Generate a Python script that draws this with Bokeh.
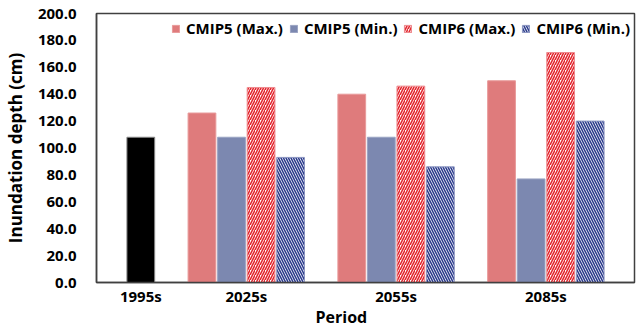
from bokeh.plotting import figure
from bokeh.models import Range1d, NumeralTickFormatter, FixedTicker, Legend, LegendItem, Title, ColumnDataSource
from bokeh.embed import file_html
from bokeh.resources import INLINE

# ---- data ----
baseline_period = "1995s"
baseline_value = [108.0]
future_periods = ["2025s", "2055s", "2085s"]
series_names = ["CMIP5 (Max.)", "CMIP5 (Min.)", "CMIP6 (Max.)", "CMIP6 (Min.)"]
cmip5_max = [126.0, 140.0, 150.0]
cmip5_min = [108.0, 108.0, 77.0]
cmip6_max = [145.0, 146.0, 171.0]
cmip6_min = [93.0, 86.0, 120.0]
y_ticks = [0, 20, 40, 60, 80, 100, 120, 140, 160, 180, 200]
y_title = "Inundation depth (cm)"
x_title = "Period"

series_values = [cmip5_max, cmip5_min, cmip6_max, cmip6_min]

FONT = "Open Sans"

# ---- cluster layout (slot units) ----
GROUP_GAP = 1.07
SIDE_PAD = 1.0
BW = 0.94

group_sizes = [1] + [len(series_names)] * len(future_periods)
group_starts = []
cursor = 0.0
for n in group_sizes:
    group_starts.append(cursor)
    cursor += n + GROUP_GAP
total = cursor - GROUP_GAP
group_centers = [s + n / 2.0 for s, n in zip(group_starts, group_sizes)]
period_labels = [baseline_period] + future_periods

p = figure(width=643, height=328, x_range=Range1d(-SIDE_PAD, total + SIDE_PAD), y_range=Range1d(0, 200),
           output_backend="svg", toolbar_location=None,
           min_border_left=92, min_border_right=9, min_border_top=13, min_border_bottom=46)

styles = [
    dict(fill_color="#DF7B7C", line_color="#E89A9A", hatch_pattern=None),
    dict(fill_color="#7C88B0", line_color="#9AA3C2", hatch_pattern=None),
    dict(fill_color="white", line_color="#EE8A8E", hatch_pattern="/", hatch_color="#E3262E"),
    dict(fill_color="white", line_color="#8A94C0", hatch_pattern="\\", hatch_color="#2C3C8C"),
]

base_src = ColumnDataSource(dict(x=[group_starts[0] + 0.5], top=baseline_value))
p.vbar(x="x", top="top", width=BW, source=base_src, fill_color="black", line_color="#888888", line_width=1)

items = []
for k, (name, vals, st) in enumerate(zip(series_names, series_values, styles)):
    xs = [group_starts[g + 1] + k + 0.5 for g in range(len(future_periods))]
    src = ColumnDataSource(dict(x=xs, top=vals))
    kw = dict(fill_color=st["fill_color"], line_color=st["line_color"], line_width=1)
    if st["hatch_pattern"]:
        kw.update(hatch_pattern=st["hatch_pattern"], hatch_color=st["hatch_color"],
                  hatch_scale=5, hatch_weight=1.6)
    r = p.vbar(x="x", top="top", width=BW, source=src, **kw)
    items.append(LegendItem(label=name, renderers=[r]))

legend = Legend(items=items, orientation="horizontal", location="top_right",
                glyph_width=9, glyph_height=9, label_standoff=6, spacing=6,
                margin=4, padding=5, border_line_color=None, background_fill_alpha=0,
                label_text_font=FONT, label_text_font_style="bold", label_text_font_size="15px",
                label_text_color="black", label_height=22)
p.add_layout(legend, "center")

p.grid.visible = False
p.outline_line_color = "#404040"
p.outline_line_width = 1.5

ya = p.yaxis[0]
ya.ticker = FixedTicker(ticks=y_ticks)
ya.formatter = NumeralTickFormatter(format="0.0")
ya.major_tick_line_color = None
ya.minor_tick_line_color = None
ya.major_tick_out = 0
ya.major_label_standoff = 20
ya.axis_line_color = "#404040"
ya.axis_line_width = 1.5
ya.major_label_text_font = FONT
ya.major_label_text_font_style = "bold"
ya.major_label_text_font_size = "15px"
ya.major_label_text_color = "black"
ya.axis_label = y_title
ya.axis_label_text_font = FONT
ya.axis_label_text_font_style = "bold"
ya.axis_label_text_font_size = "17px"
ya.axis_label_text_color = "black"
ya.axis_label_standoff = 8

xa = p.xaxis[0]
xa.ticker = FixedTicker(ticks=group_centers)
xa.major_label_overrides = {c: lab for c, lab in zip(group_centers, period_labels)}
xa.major_tick_line_color = None
xa.minor_tick_line_color = None
xa.major_tick_out = 0
xa.major_label_standoff = 3
xa.axis_line_color = "#404040"
xa.axis_line_width = 1.5
xa.major_label_text_font = FONT
xa.major_label_text_font_style = "bold"
xa.major_label_text_font_size = "15px"
xa.major_label_text_color = "black"

p.add_layout(Title(text=x_title, align="left", offset=219, standoff=-6, vertical_align="top",
                   text_line_height=1.0,
                   text_font=FONT, text_font_style="bold", text_font_size="16px",
                   text_color="black"), "below")

open("out.html", "w").write(file_html(p, INLINE))
